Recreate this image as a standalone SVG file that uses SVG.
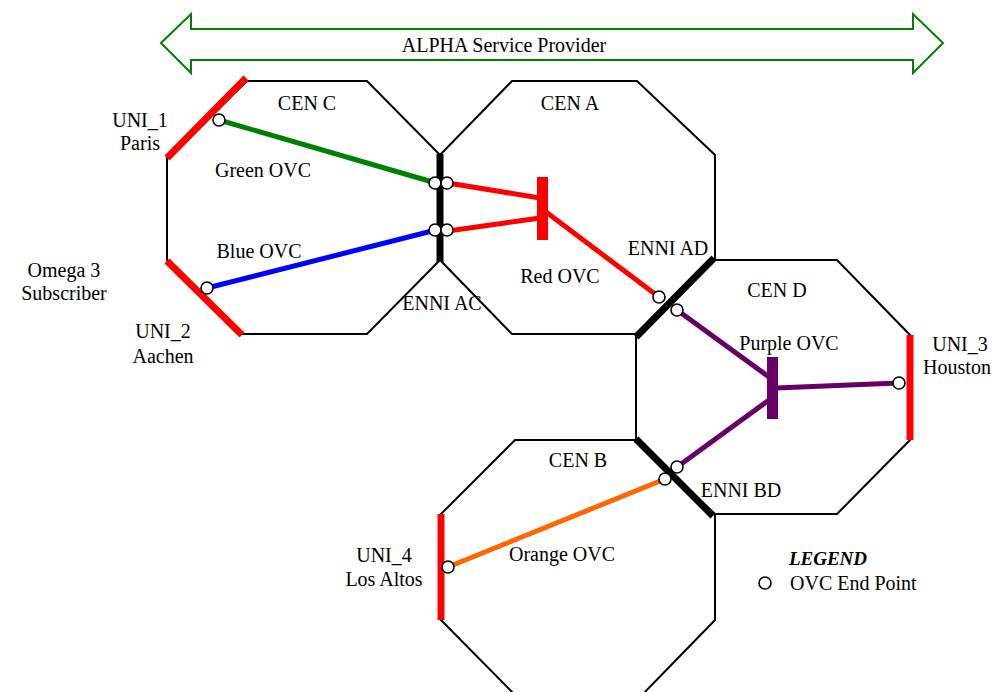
<svg xmlns="http://www.w3.org/2000/svg" width="996" height="692" viewBox="0 0 996 692">
<style>
.oct{fill:none;stroke:#000;stroke-width:2;stroke-linejoin:miter}
.uni{stroke:#ff0000;stroke-width:7;fill:none}
.enni{stroke:#000;stroke-width:7;fill:none}
.ovc{fill:none;stroke-width:5}
.ep{fill:#fff;stroke:#000;stroke-width:1.6}
text{font-family:"Liberation Serif","Times New Roman",serif;font-size:20px;fill:#000;text-anchor:middle}
</style>
<rect width="996" height="692" fill="#fff"/>
<g id="alpha">
<path d="M161,43 L191,14 L191,29 L913,29 L913,14 L943,43 L913,73 L913,60 L191,60 L191,73 Z" fill="#fff" stroke="#008000" stroke-width="2"/>
<text x="504" y="52">ALPHA Service Provider</text>
</g>
<g id="cenC">
<polygon class="oct" points="247,81 367,81 440,155 440,260 367,334 243,334 167,260 167,158"/>
<text x="307" y="110">CEN C</text>
</g>
<g id="cenA">
<polygon class="oct" points="512,81 637,81 715,155 715,258 637,334 512,334 440,260 440,155"/>
<text x="570" y="110">CEN A</text>
</g>
<g id="cenD">
<polygon class="oct" points="715,260 837,260 910,335 910,440 837,514 713,514 636,440 636,336"/>
<text x="777" y="297">CEN D</text>
</g>
<g id="cenB">
<polygon class="oct" points="515,440 636,440 715,514 715,620 642,695 515,695 441,620 441,514"/>
<text x="578" y="467">CEN B</text>
</g>
<g id="uni1">
<line class="uni" x1="246" y1="78" x2="167" y2="158"/>
<text x="140" y="127">UNI_1</text>
<text x="140" y="150">Paris</text>
</g>
<g id="uni2">
<line class="uni" x1="167" y1="261" x2="242" y2="335"/>
<text x="163" y="338">UNI_2</text>
<text x="163" y="363">Aachen</text>
</g>
<g id="uni3">
<line class="uni" x1="910" y1="335" x2="910" y2="440"/>
<text x="960" y="351">UNI_3</text>
<text x="957" y="374">Houston</text>
</g>
<g id="uni4">
<line class="uni" x1="441" y1="514" x2="441" y2="620"/>
<text x="384" y="562">UNI_4</text>
<text x="384" y="586">Los Altos</text>
</g>
<g id="enniAC">
<line class="enni" x1="440" y1="154" x2="440" y2="262"/>
<text x="442" y="310">ENNI AC</text>
</g>
<g id="enniAD">
<line class="enni" x1="714" y1="258" x2="636" y2="337"/>
<text x="668" y="255">ENNI AD</text>
</g>
<g id="enniBD">
<line class="enni" x1="636" y1="439" x2="713" y2="516"/>
<text x="741" y="497">ENNI BD</text>
</g>
<g id="subscriber">
<text x="64" y="277">Omega 3</text>
<text x="64" y="300">Subscriber</text>
</g>
<g id="connectors">
<line class="ovc" stroke="#008000" stroke-width="4" x1="219" y1="120" x2="436" y2="183"/>
<line class="ovc" stroke="#0000ff" x1="207" y1="288" x2="436" y2="230"/>
<line class="ovc" stroke="#ff0000" x1="448" y1="183" x2="540" y2="198"/>
<line class="ovc" stroke="#ff0000" x1="448" y1="231" x2="540" y2="218"/>
<rect x="537" y="177" width="11" height="63" fill="#ff0000"/>
<line class="ovc" stroke="#ff0000" x1="546" y1="212" x2="659" y2="297"/>
<line class="ovc" stroke="#660066" x1="677" y1="310" x2="769" y2="377"/>
<line class="ovc" stroke="#660066" x1="677" y1="467" x2="769" y2="400"/>
<line class="ovc" stroke="#660066" x1="776" y1="388" x2="898" y2="383"/>
<rect x="767" y="357" width="11" height="62" fill="#660066"/>
<line class="ovc" stroke="#ff6600" x1="665" y1="479" x2="448" y2="567"/>
</g>
<g id="labels">
<text x="263" y="177">Green OVC</text>
<text x="259" y="258">Blue OVC</text>
<text x="560" y="283">Red OVC</text>
<text x="789" y="350">Purple OVC</text>
<text x="562" y="561">Orange OVC</text>
</g>
<g id="endpoints">
<circle class="ep" cx="219" cy="120" r="6"/>
<circle class="ep" cx="435" cy="183" r="6"/>
<circle class="ep" cx="447" cy="183" r="6"/>
<circle class="ep" cx="435" cy="230" r="6"/>
<circle class="ep" cx="447" cy="230" r="6"/>
<circle class="ep" cx="207" cy="288" r="6"/>
<circle class="ep" cx="659" cy="297" r="6"/>
<circle class="ep" cx="677" cy="310" r="6"/>
<circle class="ep" cx="899" cy="383" r="6"/>
<circle class="ep" cx="677" cy="467" r="6"/>
<circle class="ep" cx="665" cy="479" r="6"/>
<circle class="ep" cx="448" cy="567" r="6"/>
</g>
<g id="legend">
<text x="828" y="565" style="font-weight:bold;font-style:italic;font-size:19px">LEGEND</text>
<circle class="ep" cx="765" cy="583" r="6"/>
<text x="790" y="590" style="text-anchor:start">OVC End Point</text>
</g>
</svg>
